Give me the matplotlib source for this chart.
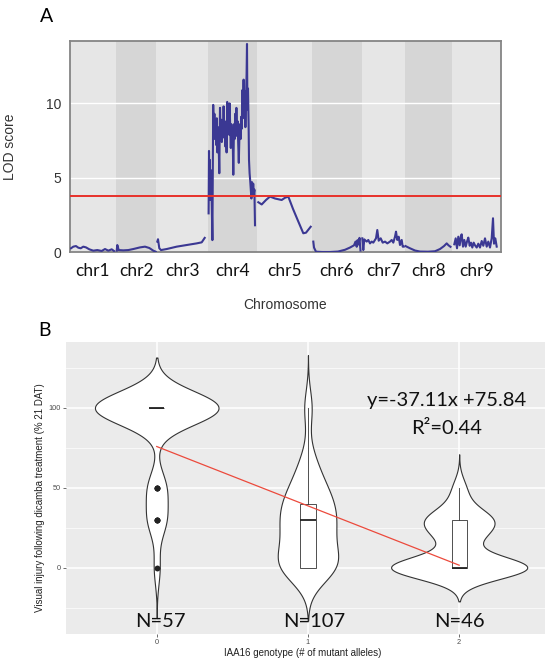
import numpy as np
import matplotlib
matplotlib.use('Agg')
import matplotlib.pyplot as plt

plt.rcParams['font.family'] = ['Liberation Sans', 'DejaVu Sans']

# ---------------- panel A: LOD scan ----------------
chr_names = ['chr1', 'chr2', 'chr3', 'chr4', 'chr5', 'chr6', 'chr7', 'chr8', 'chr9']
chr_lengths = [46.2, 40.7, 51.5, 48.6, 55.6, 49.4, 43.5, 46.9, 49.1]  # cM incl. gap
lod_threshold = 3.74

chr1_pos = [1.5, 3.8, 6.5, 8.8, 11.2, 13.8, 16.5, 19.8, 23.8, 27.8, 32.2, 35.5, 38.8, 42.2, 44.5]
chr1_lod = [0.25, 0.36, 0.40, 0.29, 0.25, 0.36, 0.31, 0.18, 0.09, 0.13, 0.07, 0.20, 0.09, 0.18, 0.07]

chr2_pos = [1.0, 1.6, 3.0, 7.6, 12.6, 17.6, 24.3, 29.3, 33.6, 37.6, 40.0]
chr2_lod = [0.09, 0.47, 0.13, 0.11, 0.13, 0.20, 0.31, 0.36, 0.27, 0.09, 0.02]

chr3_pos = [0.9, 1.6, 2.9, 4.6, 10.3, 20.3, 30.3, 40.3, 45.3, 46.9, 48.3]
chr3_lod = [0.70, 0.86, 0.25, 0.13, 0.20, 0.36, 0.47, 0.58, 0.65, 0.81, 0.95]

chr4_pos = [0.7, 1.1, 1.5, 1.9, 2.4, 3.1, 3.7, 4.5, 5.3, 5.9, 6.5, 7.1, 7.7, 8.3, 8.9,
            9.5, 10.1, 10.7, 11.4, 12.1, 12.7, 13.3, 13.9, 14.5, 15.1, 15.7, 16.3, 16.9,
            17.5, 18.1, 18.7, 19.3, 19.9, 20.5, 21.1, 21.7, 22.3, 22.9, 23.5, 24.1, 24.7,
            25.4, 26.1, 26.7, 27.3, 27.9, 28.5, 29.1, 29.7, 30.3, 30.9, 31.5, 32.1, 32.7,
            33.3, 33.9, 34.5, 35.1, 35.7, 36.3, 36.9, 37.5, 38.1, 38.7, 39.1, 39.5, 40.1,
            40.7, 41.1, 41.7, 42.3, 42.9, 43.5, 44.1, 44.7, 45.3, 45.9, 46.5, 47.1]
chr4_lod = [2.6, 6.8, 4.0, 6.2, 3.5, 5.5, 3.8, 0.8, 9.9, 8.0, 9.3, 7.6, 8.8, 7.2, 9.0,
            6.7, 8.4, 7.5, 5.3, 9.7, 8.0, 8.9, 7.4, 8.6, 7.7, 9.8, 8.0, 8.8,
            7.1, 8.3, 6.7, 10.1, 8.2, 9.6, 7.9, 10.0, 8.4, 7.0, 8.6, 7.4, 8.1,
            5.2, 8.6, 7.6, 9.3, 7.8, 9.7, 8.0, 8.8, 7.3, 6.0, 7.8, 8.6, 7.6,
            9.1, 8.3, 10.9, 9.4, 11.6, 9.0, 10.8, 8.4, 10.2, 12.0, 14.0, 9.6, 11.0,
            8.6, 6.2, 5.3, 4.8, 4.2, 3.6, 4.7, 3.8, 4.6, 3.9, 4.2, 1.8]

chr5_pos = [1.8, 5.2, 9.5, 13.5, 18.5, 25.2, 28.5, 31.8, 36.5, 41.5, 46.8, 49.5, 54.2]
chr5_lod = [3.35, 3.20, 3.50, 3.73, 3.60, 3.50, 3.65, 3.73, 2.90, 2.10, 1.26, 1.30, 1.70]

chr6_pos = [1.2, 1.9, 3.9, 9.9, 17.9, 25.9, 32.9, 37.9, 41.9, 43.4, 44.6, 45.4, 46.4, 47.4, 48.4]
chr6_lod = [0.70, 0.30, 0.02, 0.00, 0.00, 0.03, 0.15, 0.30, 0.45, 0.70, 0.35, 0.80, 0.50, 0.95, 0.10]

chr7_pos = [0.8, 1.8, 2.8, 5.2, 6.8, 8.5, 10.2, 11.8, 14.5, 15.8, 17.2, 19.2, 21.2,
            23.5, 25.8, 28.5, 30.2, 31.8, 33.5, 34.5, 35.8, 37.2, 38.5, 40.2, 41.2, 42.2]
chr7_lod = [0.92, 0.13, 0.85, 0.70, 0.81, 0.58, 0.70, 0.63, 0.92, 1.48, 0.76, 0.92, 0.63,
            0.70, 0.58, 0.70, 0.81, 0.63, 1.03, 1.37, 0.81, 1.03, 0.47, 0.81, 0.36, 0.36]

chr8_pos = [0.5, 5.0, 10.0, 15.0, 23.0, 30.0, 35.0, 39.0, 41.7, 43.5, 45.5]
chr8_lod = [0.40, 0.25, 0.10, 0.03, 0.02, 0.05, 0.20, 0.40, 0.58, 0.45, 0.35]

chr9_pos = [2.4, 3.8, 5.1, 6.4, 7.8, 9.1, 9.8, 11.1, 12.4, 13.8, 15.1, 16.4, 17.8, 19.1,
            20.4, 21.8, 23.1, 24.8, 26.4, 28.1, 29.8, 31.4, 33.1, 34.8, 36.4, 38.1,
            39.8, 41.1, 42.1, 43.4, 44.8]
chr9_lod = [0.52, 0.92, 0.25, 1.03, 0.45, 1.10, 1.19, 0.36, 0.81, 0.36, 0.70, 0.97, 0.42, 0.63,
            0.30, 0.63, 0.45, 0.30, 0.56, 0.30, 0.74, 0.42, 0.92, 0.36, 0.70, 0.30,
            0.92, 2.27, 0.56, 0.92, 0.36]

chr_pos = [chr1_pos, chr2_pos, chr3_pos, chr4_pos, chr5_pos, chr6_pos, chr7_pos, chr8_pos, chr9_pos]
chr_lod = [chr1_lod, chr2_lod, chr3_lod, chr4_lod, chr5_lod, chr6_lod, chr7_lod, chr8_lod, chr9_lod]

# ---------------- panel B: injury by genotype ----------------
genotypes = [0, 1, 2]
injury_levels = [0, 10, 20, 30, 40, 50, 60, 70, 80, 90, 100]
counts_g0 = [2, 0, 0, 6, 0, 6, 0, 0, 0, 0, 43]
counts_g1 = [28, 10, 14, 15, 15, 10, 6, 4, 0, 0, 5]
counts_g2 = [25, 1, 6, 10, 2, 2, 0, 0, 0, 0, 0]
fit_slope = -37.11
fit_intercept = 75.84
fit_r2 = 0.44

violin_bw = [10.5, 11.0, 7.0]

W, H = 545, 663
fig = plt.figure(figsize=(W / 100, H / 100), dpi=100)


def px_box(left, top, right, bottom):
    return [left / W, 1 - bottom / H, (right - left) / W, (bottom - top) / H]


# ---- A ----
axA = fig.add_axes(px_box(69.5, 41, 501, 252))
starts = np.concatenate([[0], np.cumsum(chr_lengths)[:-1]])
total = float(np.sum(chr_lengths))
band_cols = ['#e6e6e6', '#d6d6d6']
for i, (s, L) in enumerate(zip(starts, chr_lengths)):
    axA.axvspan(s, s + L, color=band_cols[i % 2], lw=0, zorder=0)
for yv in [5, 10]:
    axA.axhline(yv, color='white', lw=1.0, zorder=1)
for s, pos, lod in zip(starts, chr_pos, chr_lod):
    axA.plot(s + np.array(pos), lod, color='#3b3893', lw=1.5, zorder=3)
axA.axhline(lod_threshold, color='#e8312a', lw=1.4, zorder=4)

axA.set_xlim(0, total)
axA.set_ylim(0, 14.2)
axA.set_yticks([0, 5, 10])
axA.set_xticks(starts + np.array(chr_lengths) / 2)
axA.set_xticklabels(chr_names, fontfamily=['Lato', 'DejaVu Sans'], fontsize=12.5, color='#111111')
axA.tick_params(axis='both', length=0)
axA.tick_params(axis='y', labelsize=10, labelcolor='#333333', pad=6)
axA.tick_params(axis='x', pad=8)
for sp in axA.spines.values():
    sp.set_color('#858585')
    sp.set_linewidth(1.3)
axA.set_ylabel('LOD score', fontsize=10, color='#333333')
axA.yaxis.set_label_coords((17 - 69.5) / 431.5, 0.5)
axA.text(0.5, (252 - 305) / 211, 'Chromosome', transform=axA.transAxes,
         ha='center', va='center', fontsize=10, color='#333333')

fig.text(47 / W, 1 - 17 / H, 'A', fontfamily=['Lato', 'DejaVu Sans'], fontsize=14,
         ha='center', va='center')

# ---- B ----
axB = fig.add_axes(px_box(66, 342, 545, 634))
axB.set_facecolor('#ebebeb')
counts_all = [counts_g0, counts_g1, counts_g2]
samples = [np.repeat(injury_levels, c).astype(float) for c in counts_all]

grids, dens = [], []
for vals, bw in zip(samples, violin_bw):
    g = np.linspace(vals.min() - 3 * bw, vals.max() + 3 * bw, 512)
    z = (g[:, None] - vals[None, :]) / bw
    d = np.exp(-0.5 * z ** 2).sum(axis=1) / (len(vals) * bw * np.sqrt(2 * np.pi))
    grids.append(g)
    dens.append(d)
dmax = max(d.max() for d in dens)
for x, g, d in zip(genotypes, grids, dens):
    w = d / dmax * 0.45
    axB.fill_betweenx(g, x - w, x + w, facecolor='white', edgecolor='#333333', lw=0.8, zorder=2)

axB.boxplot(samples, positions=genotypes, widths=0.1, showcaps=False, patch_artist=True,
            manage_ticks=False, zorder=3,
            boxprops=dict(facecolor='white', edgecolor='#333333', lw=0.6),
            whiskerprops=dict(color='#333333', lw=0.6),
            medianprops=dict(color='#222222', lw=1.3),
            flierprops=dict(marker='o', markerfacecolor='#222222', markeredgecolor='#222222',
                            markersize=3))

xf = np.array([genotypes[0], genotypes[-1]])
axB.plot(xf, fit_slope * xf + fit_intercept, color='#ec4a3c', lw=0.9, zorder=4)

axB.set_xlim(-0.6, (545 - 156) / 151.5)
axB.set_ylim(-41.4, 141.2)
axB.set_xticks(genotypes)
axB.set_yticks([0, 50, 100])
axB.set_yticks([-25, 25, 75, 125], minor=True)
axB.yaxis.grid(True, which='major', color='white', lw=1.1)
axB.yaxis.grid(True, which='minor', color='white', lw=0.5)
axB.xaxis.grid(True, which='major', color='white', lw=1.1)
axB.set_axisbelow(True)
axB.tick_params(axis='both', which='major', length=2, width=0.5, color='#333333',
                labelsize=5.3, labelcolor='#4d4d4d', pad=1.5)
axB.tick_params(axis='y', which='minor', length=0)
for sp in axB.spines.values():
    sp.set_visible(False)

axB.text((40 - 66) / 479, 0.466, 'Visual injury following dicamba treatment (% 21 DAT)',
         transform=axB.transAxes, rotation=90, ha='center', va='center', fontsize=7,
         color='#222222')
axB.text(0.495, (634 - 653) / 292, 'IAA16 genotype (# of mutant alleles)',
         transform=axB.transAxes, ha='center', va='center', fontsize=7, color='#222222')

big = dict(fontfamily=['Lato', 'DejaVu Sans'], fontsize=14.5, ha='center', va='center',
           color='#111111', zorder=6)
axB.text(1.914, 104.6, f'y={fit_slope:.2f}x +{fit_intercept:.2f}', **big)
axB.text(1.914, 87.3, f'R\u00b2={fit_r2:.2f}', **big)
n_offsets = [0.026, 1.043, 2.0]
for xo, c in zip(n_offsets, counts_all):
    axB.text(xo, -33.6, f'N={sum(c)}', **big)

fig.text(45 / W, 1 - 330 / H, 'B', fontfamily=['Lato', 'DejaVu Sans'], fontsize=14,
         ha='center', va='center')

fig.savefig('out.png', dpi=100)
